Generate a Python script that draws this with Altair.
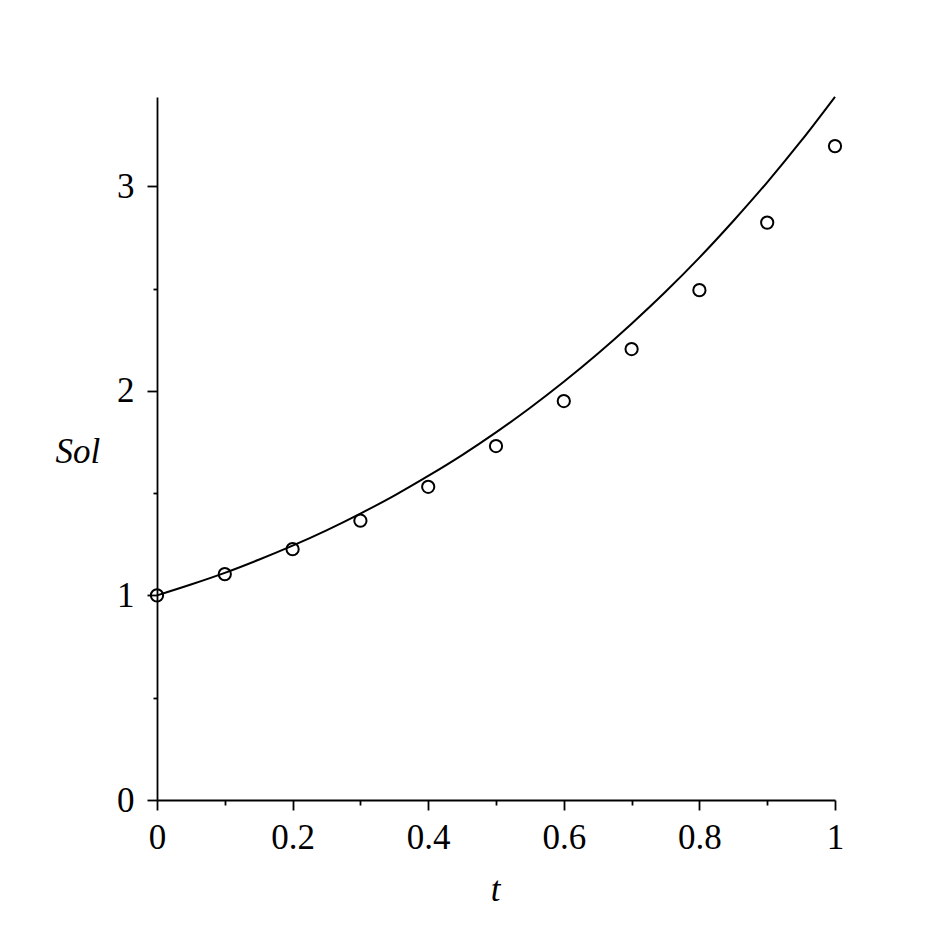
import altair as alt
import pandas as pd

# Approximate solution points
pt_t = [0.0, 0.1, 0.2, 0.3, 0.4, 0.5, 0.6, 0.7, 0.8, 0.9, 1.0]
pt_sol = [1.0, 1.104, 1.226, 1.365, 1.531, 1.730, 1.950, 2.204, 2.492, 2.822, 3.196]

# Smooth curve
curve_t = [0.0, 0.05, 0.1, 0.15, 0.2, 0.25, 0.3, 0.35, 0.4, 0.45, 0.5,
           0.55, 0.6, 0.65, 0.7, 0.75, 0.8, 0.85, 0.9, 0.95, 1.0]
curve_sol = [1.0, 1.053, 1.110, 1.174, 1.243, 1.318, 1.400, 1.488, 1.584, 1.686, 1.797,
             1.916, 2.044, 2.181, 2.328, 2.484, 2.651, 2.830, 3.019, 3.221, 3.437]

x_ticks = [0, 0.1, 0.2, 0.3, 0.4, 0.5, 0.6, 0.7, 0.8, 0.9, 1]
y_ticks = [0, 0.5, 1, 1.5, 2, 2.5, 3]

pts = pd.DataFrame({"t": pt_t, "Sol": pt_sol})
crv = pd.DataFrame({"t": curve_t, "Sol": curve_sol})

FONT = "Liberation Serif"
FS = 35

x_major = "abs(datum.value*5 - round(datum.value*5)) < 0.001"
y_major = "abs(datum.value - round(datum.value)) < 0.001"

xscale = alt.Scale(domain=[0, 1], nice=False, zero=False)
yscale = alt.Scale(domain=[0, 3.436], nice=False, zero=False)

xaxis = alt.Axis(
    values=x_ticks, grid=False, domainColor="black", domainWidth=1.8,
    tickColor="black", tickWidth=1.8,
    tickSize={"condition": {"test": x_major, "value": 10}, "value": 5},
    labelExpr=f"({x_major}) ? format(datum.value, '~g') : ''",
    labelFont=FONT, labelFontSize=FS, labelColor="black", labelPadding=10,
    labelFlush=False, labelOverlap=False,
    title="t", titleFont=FONT, titleFontSize=FS, titleFontStyle="italic",
    titleFontWeight="normal", titleColor="black",
    titleX=338, titleY=100, titleBaseline="alphabetic", titleAlign="center",
)
yaxis = alt.Axis(
    values=y_ticks, grid=False, domainColor="black", domainWidth=1.8,
    tickColor="black", tickWidth=1.8,
    tickSize={"condition": {"test": y_major, "value": 10}, "value": 4},
    labelExpr=f"({y_major}) ? format(datum.value, '~g') : ''",
    labelFont=FONT, labelFontSize=FS, labelColor="black", labelPadding=13,
    labelFlush=False, labelOverlap=False,
    title="Sol", titleFont=FONT, titleFontSize=FS, titleFontStyle="italic",
    titleFontWeight="normal", titleColor="black", titleAngle=0,
    titleX=-102, titleY=365, titleBaseline="alphabetic", titleAlign="left",
)

line = alt.Chart(crv).mark_line(color="black", strokeWidth=2, interpolate="monotone", clip=False).encode(
    x=alt.X("t:Q", scale=xscale, axis=xaxis),
    y=alt.Y("Sol:Q", scale=yscale, axis=yaxis),
)
points = alt.Chart(pts).mark_point(shape="circle", filled=False, color="black", strokeWidth=2,
                                   size=150, opacity=1).encode(
    x=alt.X("t:Q", scale=xscale),
    y=alt.Y("Sol:Q", scale=yscale),
)

chart = alt.layer(line, points).properties(
    width=678, height=703,
    background="white",
    autosize=alt.AutoSizeParams(type="none"),
    padding={"left": 149, "top": 89, "right": 100, "bottom": 120},
).configure_view(strokeWidth=0)

chart.save("out.html", embed_options={"renderer": "svg", "actions": False})
